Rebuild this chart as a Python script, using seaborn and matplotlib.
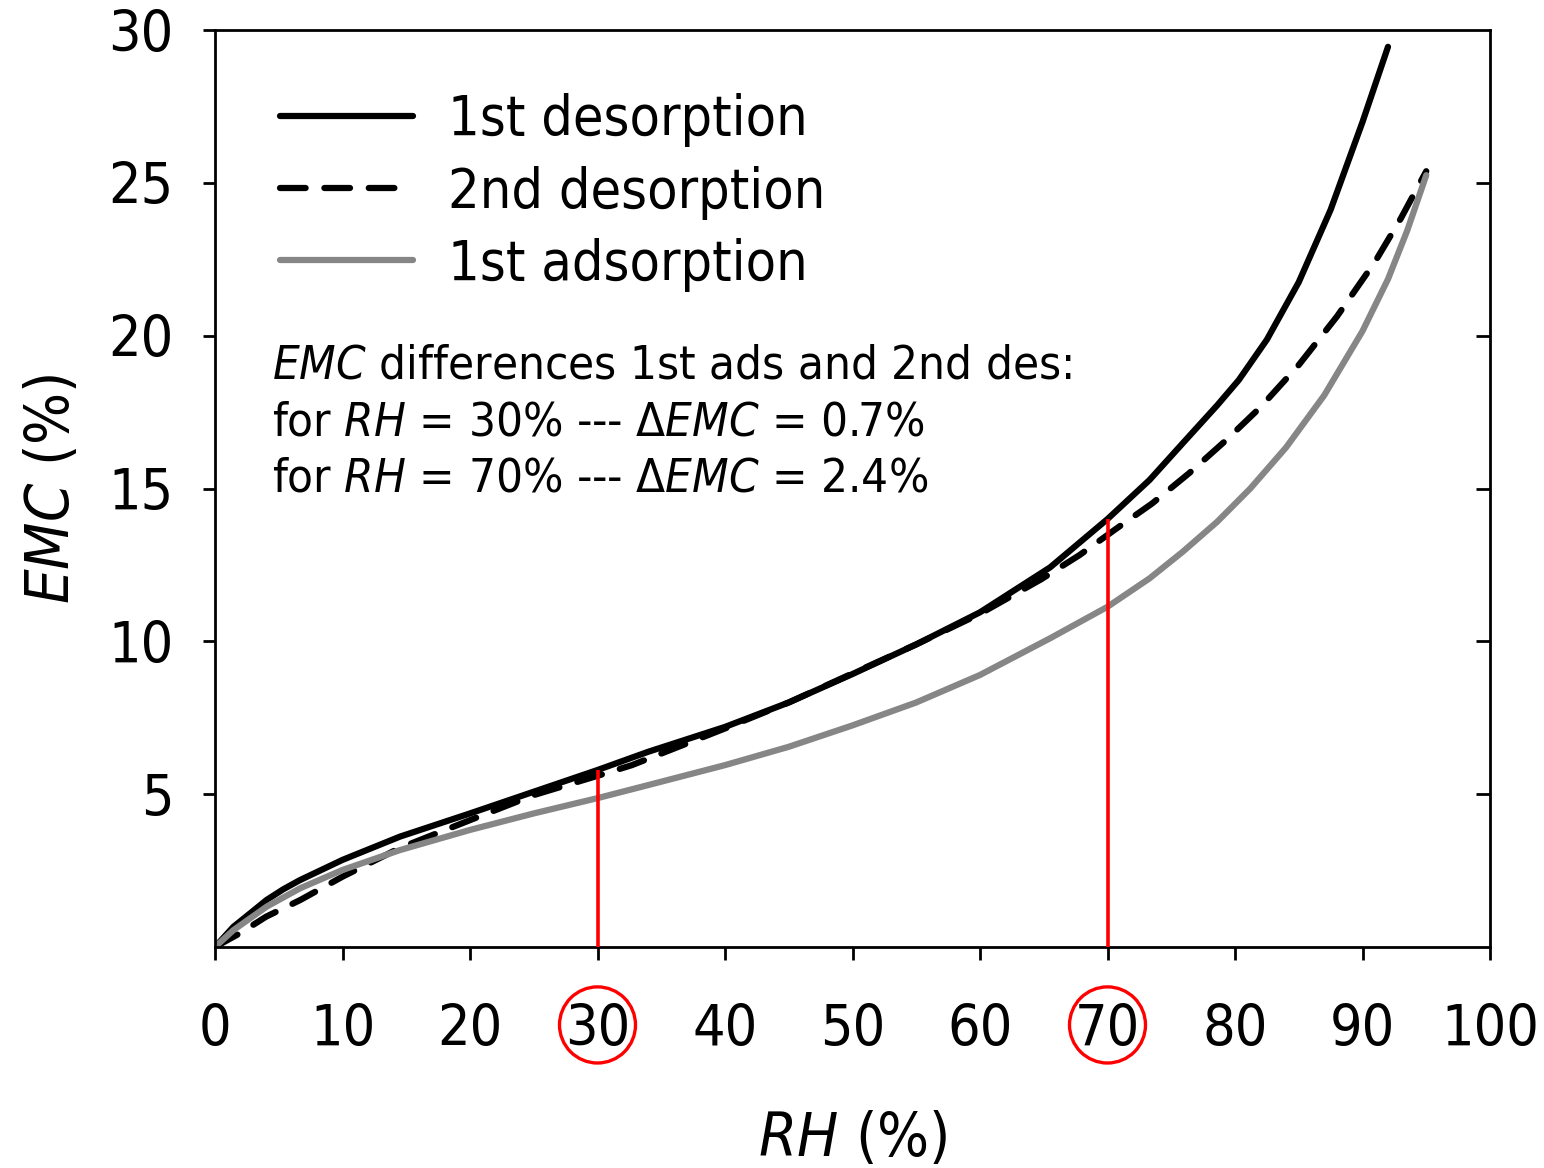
import os
import matplotlib
matplotlib.use("Agg")
import matplotlib.pyplot as plt
from matplotlib import font_manager as fm
from matplotlib.patches import Ellipse
import numpy as np
import pandas as pd
import seaborn as sns

# ---------------- data ----------------
series_names = ["1st desorption", "2nd desorption", "1st adsorption"]

rh_des1 = [0, 1.44, 2.75, 4.05, 5.36, 6.67, 10, 14.5, 20, 25, 30, 34, 40, 45, 50,
           55, 60, 65.5, 70, 73.3, 75.9, 78.6, 80.3, 82.5, 85, 87.5, 90, 92]
emc_des1 = [0, 0.66, 1.1, 1.54, 1.89, 2.19, 2.85, 3.61, 4.37, 5.08, 5.79, 6.39,
            7.2, 8.0, 8.93, 9.9, 10.95, 12.42, 14.0, 15.28, 16.48, 17.72, 18.55,
            19.87, 21.75, 24.12, 26.99, 29.45]

rh_des2 = [0, 2, 4, 6.7, 10, 14.5, 20, 25, 30, 32.7, 40, 45, 50, 55, 60, 64.8,
           67.8, 70.6, 73.5, 76.4, 79.3, 82, 85, 88, 91, 93, 95]
emc_des2 = [0, 0.46, 0.99, 1.54, 2.3, 3.24, 4.15, 4.97, 5.6, 5.95, 7.15, 8.0, 8.95,
            9.9, 10.9, 12.03, 12.82, 13.66, 14.51, 15.5, 16.58, 17.66, 19.04,
            20.63, 22.43, 23.83, 25.38]

rh_ads1 = [0, 1.44, 4.05, 6.67, 10, 14.5, 20, 25, 30, 34, 40, 45, 50, 55, 60,
           65.5, 70, 73.3, 75.9, 78.6, 81.2, 84, 87, 90, 92, 93.5, 95]
emc_ads1 = [0, 0.55, 1.32, 1.92, 2.52, 3.17, 3.83, 4.37, 4.87, 5.3, 5.95, 6.55,
            7.25, 8.0, 8.9, 10.1, 11.13, 12.06, 12.93, 13.91, 15.0, 16.34, 18.05,
            20.15, 21.85, 23.43, 25.25]

x_ticks = list(range(0, 101, 10))
y_ticks = [5, 10, 15, 20, 25, 30]
y_ticks_right = [5, 10, 15, 20, 25]
marked_rh = [30, 70]
marked_emc = [5.8, 14.0]

x_label = r"$\mathit{RH}$ (%)"
y_label = r"$\mathit{EMC}$ (%)"
note_lines = [
    r"$\mathit{EMC}$ differences 1st ads and 2nd des:",
    r"for $\mathit{RH}$ = 30% --- Δ$\mathit{EMC}$ = 0.7%",
    r"for $\mathit{RH}$ = 70% --- Δ$\mathit{EMC}$ = 2.4%",
]

# ---------------- styling ----------------
sns.set_style("ticks")

cond = [f for f in fm.fontManager.ttflist
        if "DejaVuSansCondensed" in os.path.basename(f.fname)]
if cond:
    fam = "DejaVu Sans"
    plt.rcParams["font.stretch"] = "condensed"
    it_pat = "DejaVu Sans:italic:stretch=condensed"
    rm_pat = "DejaVu Sans:stretch=condensed"
else:
    fam = "Liberation Sans"
    it_pat = "Liberation Sans:italic"
    rm_pat = "Liberation Sans"
plt.rcParams["font.family"] = [fam, "DejaVu Sans"]
plt.rcParams["mathtext.fontset"] = "custom"
plt.rcParams["mathtext.it"] = it_pat
plt.rcParams["mathtext.rm"] = rm_pat
plt.rcParams["mathtext.default"] = "regular"
for k in ["text.color", "axes.labelcolor", "xtick.color", "ytick.color",
          "axes.edgecolor"]:
    plt.rcParams[k] = "black"

frames = []
for name, xs, ys in zip(series_names, [rh_des1, rh_des2, rh_ads1],
                        [emc_des1, emc_des2, emc_ads1]):
    frames.append(pd.DataFrame({"RH": xs, "EMC": ys, "series": name}))
df = pd.concat(frames, ignore_index=True)

colors = {"1st desorption": "#000000", "2nd desorption": "#000000",
          "1st adsorption": "#868686"}

W, H = 1544, 1168
fig = plt.figure(figsize=(W / 100, H / 100), dpi=100)
ax = fig.add_axes([215 / W, (H - 947) / H, 1275 / W, 917 / H])

handles = []
for name in series_names:
    sub = df[df["series"] == name]
    sns.lineplot(data=sub, x="RH", y="EMC", ax=ax, color=colors[name],
                 linewidth=4.5, estimator=None, sort=False,
                 solid_capstyle="round", dash_capstyle="round",
                 solid_joinstyle="round", label=name)
    line = ax.get_lines()[-1]
    line.set_linewidth(4.5)
    if name == "2nd desorption":
        line.set_dashes((4.1, 3.0))
    handles.append(line)

ax.vlines(marked_rh, 0, marked_emc, color="#ff0000", linewidth=2.6, zorder=4)

ax.set_xlim(0, 100)
ax.set_ylim(0, 30)
ax.set_xticks(x_ticks)
ax.set_yticks(y_ticks)
ax.tick_params(axis="x", direction="out", length=9, width=2, pad=31,
               labelsize=41, top=False, colors="black")
ax.tick_params(axis="y", direction="out", length=9, width=2, pad=21,
               labelsize=41, right=False, colors="black")
for s in ax.spines.values():
    s.set_visible(True)
    s.set_linewidth(2)
    s.set_color("black")

twin = ax.twinx()
twin.set_ylim(ax.get_ylim())
twin.set_yticks(y_ticks_right)
twin.tick_params(axis="y", direction="in", length=10, width=2, labelright=False,
                 colors="black")
for s in twin.spines.values():
    s.set_visible(False)

ax.set_xlabel(x_label, fontsize=44, labelpad=38)
ax.set_ylabel(y_label, fontsize=44, labelpad=19)

if ax.get_legend() is not None:
    ax.get_legend().remove()
ax.legend(handles, series_names, loc="upper left",
          bbox_to_anchor=(0.051, 0.931), frameon=False, fontsize=40,
          handlelength=2.4, handletextpad=0.62, labelspacing=0.33,
          borderaxespad=0, borderpad=0)

note_y = [0.6205, 0.5583, 0.4962]
for txt, yy in zip(note_lines, note_y):
    ax.text(0.0447, yy, txt, transform=ax.transAxes, fontsize=34,
            ha="left", va="baseline")

for xv in marked_rh:
    ax.add_patch(Ellipse((xv, -2.55), width=5.96, height=2.49, fill=False,
                         edgecolor="#ff0000", linewidth=2.4, clip_on=False,
                         transform=ax.transData))

fig.savefig("out.png", dpi=100)
